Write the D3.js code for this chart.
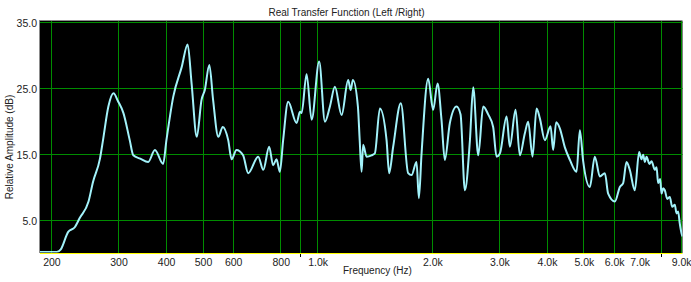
<!DOCTYPE html>
<html>
<head>
<meta charset="utf-8">
<script src="https://cdn.jsdelivr.net/npm/d3@7"></script>
<style>
  html, body { margin: 0; padding: 0; background: #ffffff; }
  svg { display: block; }
  text { font-family: "Liberation Sans", Arial, sans-serif; fill: #222; }
</style>
</head>
<body>
<svg id="chart" width="691" height="282"></svg>
<script>
// ---- data ----
const title = "Real Transfer Function (Left /Right)";
const xLabel = "Frequency (Hz)";
const yLabel = "Relative Amplitude (dB)";

const freqs = [187, 207, 212, 222, 231, 238, 251, 258, 269, 274, 283, 292, 300, 310, 322, 329, 343, 360, 375, 394, 402, 419, 441, 457, 468, 483, 497, 507, 521, 533, 550, 565, 584, 596, 614, 639, 659, 700, 722, 748, 766, 782, 798, 814, 839, 883, 901, 910, 938, 967, 1012, 1048, 1080, 1113, 1159, 1206, 1224, 1241, 1279, 1293, 1308, 1320, 1348, 1389, 1417, 1461, 1521, 1545, 1583, 1658, 1733, 1769, 1823, 1849, 1879, 1956, 2016, 2070, 2120, 2163, 2230, 2322, 2379, 2442, 2517, 2568, 2647, 2728, 2811, 2897, 2957, 3018, 3142, 3205, 3317, 3404, 3508, 3580, 3676, 3766, 3842, 3960, 4099, 4164, 4240, 4335, 4469, 4607, 4796, 4893, 4990, 5197, 5356, 5522, 5692, 5806, 6047, 6232, 6357, 6487, 6617, 6821, 7002, 7100, 7173, 7250, 7321, 7450, 7546, 7698, 7780, 7852, 7950, 8017, 8100, 8177, 8300, 8428, 8550, 8686, 8780, 8862, 8950, 9046, 9100];
const levels = [0.15, 0.15, 0.5, 3.2, 3.9, 5.3, 7.8, 10.8, 14.3, 17.1, 22.2, 24.2, 23.0, 21.2, 17.1, 14.8, 14.3, 13.8, 15.6, 13.5, 17.1, 23.7, 28.2, 31.6, 25.7, 17.6, 23.2, 24.7, 28.5, 23.2, 17.6, 19.1, 17.1, 14.2, 15.6, 14.8, 12.1, 14.6, 12.6, 16.1, 13.3, 14.2, 12.3, 17.1, 22.9, 19.7, 21.4, 21.2, 27.1, 20.2, 29.0, 19.9, 22.2, 25.2, 20.9, 26.2, 24.7, 26.2, 22.2, 17.1, 12.3, 16.4, 14.6, 14.8, 15.1, 21.9, 17.1, 12.1, 16.1, 22.7, 12.1, 11.8, 13.8, 8.3, 15.0, 26.4, 21.7, 25.7, 20.2, 14.1, 19.7, 22.2, 21.0, 9.5, 17.0, 25.1, 14.8, 22.2, 21.0, 19.1, 14.6, 15.1, 20.7, 16.1, 21.7, 14.8, 18.1, 19.9, 14.6, 21.9, 20.4, 17.1, 19.2, 15.6, 19.8, 18.9, 16.0, 14.1, 12.3, 18.6, 14.0, 10.0, 14.6, 11.6, 12.1, 9.0, 7.8, 10.0, 10.6, 13.8, 12.6, 9.5, 15.3, 14.2, 14.9, 13.8, 14.6, 13.5, 13.9, 12.6, 13.0, 10.6, 11.2, 9.0, 9.8, 9.5, 8.2, 8.5, 7.0, 7.3, 6.0, 6.3, 4.5, 3.0, 2.5];

const xTickValues = [200, 300, 400, 500, 600, 800, 1000, 2000, 3000, 4000, 5000, 6000, 7000, 9000];
const xTickLabels = ["200", "300", "400", "500", "600", "800", "1.0k", "2.0k", "3.0k", "4.0k", "5.0k", "6.0k", "7.0k", "9.0k"];
const xGridValues = [200, 300, 400, 500, 600, 800, 900, 1000, 2000, 3000, 4000, 5000, 6000, 8000, 9000];
const xMinorTicks = [900, 8000];
const yTickValues = [5, 15, 25, 35];
const yTickLabels = ["5.0", "15.0", "25.0", "35.0"];

// ---- layout ----
const pL = 40, pR = 682.5, pT = 22, pB = 253;
const svg = d3.select("#chart");

const x = d3.scaleLog().domain([187.2, 9100]).range([pL, pR]);
const y = d3.scaleLinear().domain([0, 35]).range([pB, pT]);

// plot background
svg.append("rect").attr("x", pL).attr("y", pT - 1).attr("width", pR - pL).attr("height", pB - pT + 1).attr("fill", "#000");
// frame
svg.append("line").attr("x1", pL - 0.5).attr("x2", pR).attr("y1", pT - 1.5).attr("y2", pT - 1.5).attr("stroke", "#8c8c8c").attr("stroke-width", 1);
svg.append("line").attr("x1", pL - 0.5).attr("x2", pL - 0.5).attr("y1", pT - 2).attr("y2", pB).attr("stroke", "#8c8c8c").attr("stroke-width", 1);

// grid
const grid = svg.append("g");
grid.selectAll("line.vx").data(xGridValues).enter().append("line")
  .attr("x1", d => Math.round(x(d)) + 0.5).attr("x2", d => Math.round(x(d)) + 0.5)
  .attr("y1", pT - 1).attr("y2", pB)
  .attr("stroke", "#008c00").attr("stroke-width", 1);
grid.selectAll("line.hy").data(yTickValues).enter().append("line")
  .attr("x1", pL).attr("x2", pR)
  .attr("y1", d => Math.round(y(d)) + 0.5).attr("y2", d => Math.round(y(d)) + 0.5)
  .attr("stroke", "#008c00").attr("stroke-width", 1);

// bottom yellow axis line
svg.append("line").attr("x1", pL).attr("x2", pR).attr("y1", pB + 0.5).attr("y2", pB + 0.5)
  .attr("stroke", "#ffff00").attr("stroke-width", 1);
// minor tick marks
svg.selectAll("line.mt").data(xMinorTicks).enter().append("line")
  .attr("x1", d => Math.round(x(d)) + 0.5).attr("x2", d => Math.round(x(d)) + 0.5)
  .attr("y1", pB + 1).attr("y2", pB + 4)
  .attr("stroke", "#000").attr("stroke-width", 1);

// curve
const pts = freqs.map((f, i) => [f, levels[i]]);
const line = d3.line().x(d => x(d[0])).y(d => y(d[1])).curve(d3.curveMonotoneX);
svg.append("defs").append("clipPath").attr("id", "clip")
  .append("rect").attr("x", pL).attr("y", pT - 1).attr("width", pR - pL).attr("height", pB - pT + 0.5);
svg.append("path").datum(pts).attr("d", line)
  .attr("fill", "none").attr("stroke", "#a2f2fa").attr("stroke-width", 2)
  .attr("stroke-linejoin", "round").attr("clip-path", "url(#clip)");

// x tick labels
svg.selectAll("text.xt").data(xTickValues).enter().append("text")
  .attr("x", d => x(d) + 1).attr("y", 266)
  .attr("text-anchor", "middle").attr("font-size", "10.5px")
  .text((d, i) => xTickLabels[i]);

// y tick labels
svg.selectAll("text.yt").data(yTickValues).enter().append("text")
  .attr("x", 37).attr("y", d => y(d) + 4.5)
  .attr("text-anchor", "end").attr("font-size", "10.5px")
  .text((d, i) => yTickLabels[i]);

// title
svg.append("text").attr("x", 346.5).attr("y", 16).attr("text-anchor", "middle")
  .attr("font-size", "10px").text(title);
// x label
svg.append("text").attr("x", 343).attr("y", 273.5).attr("text-anchor", "start")
  .attr("font-size", "10px").text(xLabel);
// y label
svg.append("text").attr("transform", "translate(12.5,147) rotate(-90)")
  .attr("text-anchor", "middle").attr("font-size", "10px").text(yLabel);
</script>
</body>
</html>
